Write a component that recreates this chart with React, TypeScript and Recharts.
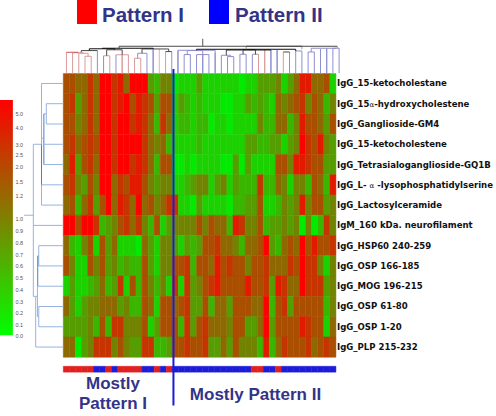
import React from "react";
import { BarChart, Bar, Cell, XAxis, YAxis, ReferenceLine, ReferenceArea } from "recharts";

// antibody reactivities, rows top to bottom
const rowLabels = [
  "IgG_15-ketocholestane",
  "IgG_15α-hydroxycholestene",
  "IgG_Ganglioside-GM4",
  "IgG_15-ketocholestene",
  "IgG_Tetrasialoganglioside-GQ1B",
  "IgG_L- α -lysophosphatidylserine",
  "IgG_Lactosylceramide",
  "IgM_160 kDa. neurofilament",
  "IgG_HSP60 240-259",
  "IgG_OSP 166-185",
  "IgG_MOG 196-215",
  "IgG_OSP 61-80",
  "IgG_OSP 1-20",
  "IgG_PLP 215-232",
];

// heat level per column, 0 = green, 9 = red
const heat0 = [6,6,5,5,7,5,9,9,7,8,5,9,9,9,3,2,4,4,0,1,1,1,3,1,1,1,1,1,1,0,1,1,3,3,3,4,1,3,5,8,8,5,5,6,1];
const heat1 = [6,7,3,5,7,5,9,9,7,8,9,6,8,7,6,3,6,6,1,3,2,1,2,1,1,1,0,0,1,1,3,2,3,2,1,5,4,5,6,7,4,6,5,2,4];
const heat2 = [6,6,4,5,7,5,9,9,7,9,9,7,8,7,5,2,7,5,1,2,2,1,2,2,0,1,1,0,1,1,1,1,4,2,2,5,5,2,4,8,6,6,5,3,6];
const heat3 = [6,7,5,6,7,6,9,9,7,9,9,9,9,7,5,4,5,2,1,1,1,1,2,1,1,1,1,1,1,1,3,3,2,2,3,3,1,3,4,9,7,6,8,4,3];
const heat4 = [5,8,3,6,7,5,9,9,7,9,9,7,8,7,5,2,6,6,0,0,1,0,1,1,1,1,0,0,3,0,3,1,1,1,1,6,6,4,8,8,7,6,6,3,3];
const heat5 = [6,7,4,3,6,4,9,9,5,7,6,8,8,6,4,3,4,4,1,1,2,3,4,4,1,3,4,1,3,2,2,2,7,2,2,5,4,1,4,4,2,6,5,2,8];
const heat6 = [5,6,2,5,7,3,6,9,5,8,7,5,9,5,6,4,5,7,7,1,1,0,3,1,1,1,1,0,2,2,3,3,6,1,1,2,4,3,4,8,4,6,6,3,4];
const heat7 = [9,9,6,9,9,7,2,3,4,6,7,5,7,4,2,6,1,3,4,4,4,4,6,4,6,5,5,2,8,7,4,4,6,2,3,3,4,3,4,0,4,0,2,7,4];
const heat8 = [5,2,1,4,6,1,6,3,5,1,1,1,0,5,3,1,4,4,3,1,3,2,3,6,6,7,5,5,4,2,5,5,6,9,3,2,5,6,5,9,6,8,6,6,7];
const heat9 = [6,4,1,1,6,4,6,3,4,2,3,2,2,6,3,1,4,4,6,6,7,2,6,6,5,8,6,7,6,6,4,6,6,7,5,5,5,7,6,9,7,7,4,1,4];
const heat10 = [1,3,1,1,2,3,5,2,3,7,1,6,2,6,4,2,4,1,7,1,7,3,4,6,7,8,6,6,6,6,8,6,6,7,3,8,7,5,5,9,7,7,7,3,4];
const heat11 = [5,3,1,3,4,4,5,5,5,3,4,2,2,6,5,1,6,6,5,6,7,3,3,6,2,5,5,3,6,6,6,5,5,9,2,6,7,3,6,6,6,6,6,2,4];
const heat12 = [3,3,3,3,4,2,6,2,7,7,4,4,4,6,1,3,6,6,6,2,7,3,6,7,5,5,5,4,6,6,3,3,5,9,3,6,6,6,6,8,7,6,6,1,5];
const heat13 = [5,5,0,3,4,7,7,7,4,6,4,3,3,7,7,2,2,3,6,6,7,6,6,7,3,3,5,3,6,4,4,4,2,8,2,5,7,6,6,6,7,5,6,7,6];
const heatRows = [heat0, heat1, heat2, heat3, heat4, heat5, heat6, heat7, heat8, heat9, heat10, heat11, heat12, heat13];

// sample pattern strip: 1 = Pattern I, 2 = Pattern II
const patternStrip = [1,1,1,1,1,2,2,1,2,1,1,1,1,2,2,1,2,1,2,2,2,2,2,2,2,2,2,2,2,2,2,1,1,2,2,1,2,2,2,2,2,2,2,2,2];

const scaleTicks = [
  ["5.0", 114.3], ["4.0", 127.7], ["3.0", 145], ["2.5", 155.3], ["2.0", 167], ["1.5", 182.3], ["1.2", 196],
  ["1.0", 219.3], ["0.9", 231.3], ["0.8", 243], ["0.7", 254.7], ["0.6", 266.3], ["0.5", 278.3], ["0.4", 290],
  ["0.3", 301.7], ["0.2", 313.3], ["0.1", 325], ["0.0", 336],
] as [string, number][];

const R = "#d99a9a", P = "#f0bcbc", B = "#8e8ed0", K = "#4a4a4a", N = "#111111", G = "#9a9a9a";
// top tree: left col, right col, left base, right base, merge height, left colour, right colour, bar colour
const topTree: [number, number, number, number, number, string, string, string][] = [
  [3,4,0,0,17,R,R,R],[2,3.5,0,17,20,R,R,R],[1,2.75,0,20,20.5,R,R,R],[0,1.9,0,20.5,21,R,R,"#cc5555"],
  [2.4,5,21,0,22.7,K,B,K],[6,7,0,0,17.5,B,R,R],[8,10,0,0,18.5,B,R,R],[9,9,0,0,18.5,R,R,R],
  [11,12,0,0,15,R,R,R],[11.5,13,15,0,20,B,B,B],[14,14,0,0,24,B,B,B],[15,15,0,0,24,P,P,P],
  [16,17,0,0,21.7,R,B,K],[6.5,9,17.5,18.5,23.5,K,K,K],[12.2,16.5,20,21.7,24.3,K,K,K],
  [3.7,7.8,22.7,23.5,24.5,N,N,N],[5.8,14,24.5,24.3,25,N,N,N],[8.5,8.5,25,27,27,K,K,K],
  [18,18,0,0,22.7,B,B,B],[19,20,0,0,18.7,B,B,B],[21,23,0,0,18.7,B,B,B],[22,22,0,0,18.7,B,B,B],
  [24,24,0,0,20.7,B,B,B],[26,27,0,0,16.7,B,B,B],[25,26.5,0,16.7,18,B,B,B],[28,29,0,0,19,B,B,B],
  [30,31,0,0,19,B,R,G],[32,32,0,0,23.3,R,R,R],[33,33,0,0,23.3,B,B,B],[34,34,0,0,23.3,B,B,B],
  [35,36,0,0,21.3,R,B,K],[37,38,0,0,22.3,B,B,B],[39,40,0,0,21.3,B,B,B],[41,41,0,0,24,B,B,B],
  [42,42,0,0,24.7,B,B,B],[43,44,0,0,25,B,B,B],[19.5,22,18.7,18.7,22.7,B,B,B],[18,24,22.7,20.7,23,B,B,B],
  [25.8,33,18,23.3,23.3,K,K,N],[28.5,30.5,19,19,23.6,K,K,N],[21,37,23,22.3,24,N,N,N],
  [39.5,43.5,21.3,25,25,B,B,B],[29,38,24,24,27,G,G,K],[8.5,43.7,27,25,27,K,B,K],
];
const rootStem = [22, 27, 34.5];

const L = "#96b4e0", D = "#4f7fc4";
// left tree: top row, bottom row, top base, bottom base, merge depth, colour
const leftTree: [number, number, number, number, number, string][] = [
  [1,2,0,0,16.6,L],[1.5,4,16.6,0,19,D],[3,3,0,19,19,L],[0,6,0,0,21.3,L],[3,5,21,21.3,21.3,D],[5,5,0,21.3,21.3,L],
  [2.7,2.7,19,21.3,21.3,L],[3,3,21.3,29.3,29.3,L],[7,7,0,29.3,29.3,L],[3,10.5,29.3,29.3,29.3,L],
  [10.5,10.5,27,29.3,29.3,L],[6.5,6.5,29.3,38.3,38.3,L],
  [8,9,0,0,24,L],[8.5,10,24,0,25,D],[11,12,0,0,24,L],[10,11.5,25,24,25.3,L],[10.5,13,25.3,0,27,L],
];

const colIds = patternStrip.map((_, i) => i);
const data = colIds.map((c) => {
  const row: Record<string, number> = { col: c, gap: 0.45, strip: 0.3 };
  heatRows.forEach((_, r) => { row["r" + r] = 1; });
  return row;
});

const COL_PX = 6.06, ROW_PX = 20.25, LEFT = 63.3, TOP = 73.3;
const px2col = (x: number) => (x - LEFT) / COL_PX;
const px2row = (y: number) => (y - TOP) / ROW_PX;
const heatColor = (v: number) => {
  const t = v / 9;
  return `rgb(${Math.round(255 * t)},${Math.round(235 * (1 - t))},0)`;
};
const seg = (k: string, x1: number, y1: number, x2: number, y2: number, stroke: string, w = 1) => (
  <ReferenceLine key={k} xAxisId="num" yAxisId="main" ifOverflow="visible" stroke={stroke} strokeWidth={w}
    segment={[{ x: x1, y: y1 }, { x: x2, y: y2 }]} />
);
const tx = (c: number) => c + 0.5;
const ty = (h: number) => -h / ROW_PX;
const lx = (d: number) => -d / COL_PX;
const ly = (r: number) => r + 0.5;
const labelTicks = rowLabels.map((_, i) => i + 0.5);
const head = { fontFamily: "Liberation Sans", fontWeight: 700, fill: "#333388" } as const;

const RowTick = ({ x, y, payload }: any) => {
  const label = rowLabels[Math.round(payload.value - 0.5)] ?? "";
  const parts = label.split("α");
  return (
    <text x={x} y={y + 3} fontFamily="DejaVu Sans" fontWeight={700} fontSize={8.55} fill="#111" style={{ whiteSpace: "pre" }}>
      {parts[0]}
      {parts.length > 1 ? <tspan fontWeight={400} fontFamily="DejaVu Serif" fontSize={7}>α</tspan> : null}
      {parts[1] ?? ""}
    </text>
  );
};

export default function App() {
  return (
    <div style={{ position: "absolute", left: 0, top: 0 }}>
      <BarChart width={496} height={416} data={data} barCategoryGap={0}
        margin={{ top: TOP, left: LEFT, right: 0, bottom: 416 - 372.4 }}>
        <defs>
          <linearGradient id="scale" x1="0" y1="0" x2="0" y2="1">
            <stop offset="0" stopColor="#ff0000" />
            <stop offset="0.5" stopColor="#808000" />
            <stop offset="1" stopColor="#00ff00" />
          </linearGradient>
        </defs>
        <XAxis xAxisId="cat" dataKey="col" hide />
        <XAxis xAxisId="num" type="number" domain={[0, 46]} hide allowDataOverflow />
        <YAxis yAxisId="main" type="number" domain={[0, 14.75]} reversed orientation="right" width={160} allowDataOverflow
          ticks={labelTicks} interval={0} axisLine={false} tickLine={false} tickSize={0} tickMargin={1}
          tick={RowTick} />
        {heatRows.map((row, r) => (
          <Bar key={r} dataKey={"r" + r} stackId="s" xAxisId="cat" yAxisId="main" isAnimationActive={false}>
            {row.map((v, c) => <Cell key={c} fill={heatColor(v)} stroke={heatColor(v)} strokeWidth={0.5} />)}
          </Bar>
        ))}
        <Bar dataKey="gap" stackId="s" xAxisId="cat" yAxisId="main" isAnimationActive={false} fill="none" />
        <Bar dataKey="strip" stackId="s" xAxisId="cat" yAxisId="main" isAnimationActive={false}>
          {patternStrip.map((p, c) => {
            const f = p === 1 ? "#e02020" : "#1c1cd8";
            return <Cell key={c} fill={f} stroke={f} strokeWidth={0.5} />;
          })}
        </Bar>

        <ReferenceArea xAxisId="num" yAxisId="main" ifOverflow="visible" x1={px2col(0)} x2={px2col(14)}
          y1={px2row(100)} y2={px2row(335)} fill="url(#scale)" fillOpacity={1} stroke="none" />

        {topTree.flatMap(([a, b, ha, hb, h, ca, cb, cbar], i) => [
          seg(`ta${i}`, tx(a), ty(ha), tx(a), ty(h), ca),
          seg(`tb${i}`, tx(b), ty(hb), tx(b), ty(h), cb),
          seg(`tc${i}`, tx(a), ty(h), tx(b), ty(h), cbar),
        ])}
        {seg("root", tx(rootStem[0]), ty(rootStem[1]), tx(rootStem[0]), ty(rootStem[2]), "#555")}
        {leftTree.flatMap(([r1, r2, d1, d2, d, col], i) => [
          seg(`la${i}`, lx(d1), ly(r1), lx(d), ly(r1), L),
          seg(`lb${i}`, lx(d2), ly(r2), lx(d), ly(r2), L),
          seg(`lc${i}`, lx(d), ly(r1), lx(d), ly(r2), col),
        ])}
        {seg("divider", px2col(171), px2row(69), px2col(171), px2row(405), "#1a1ad8", 2)}

        {scaleTicks.map(([t, y]) => (
          <text key={t} x={15.5} y={y + 2} fontFamily="Liberation Sans" fontSize={5.5} fill="#555">{t}</text>
        ))}
        <rect x={77} y={0} width={20} height={24} fill="#ff0000" />
        <rect x={209} y={0} width={20} height={24} fill="#0000ff" />
        <text x={102} y={22} fontSize={20.5} {...head}>Pattern I</text>
        <text x={235} y={22} fontSize={20.5} {...head}>Pattern II</text>
        <text x={113} y={388.5} fontSize={17} textAnchor="middle" {...head}>Mostly</text>
        <text x={113} y={409} fontSize={17} textAnchor="middle" {...head}>Pattern I</text>
        <text x={255.5} y={399.5} fontSize={17} textAnchor="middle" {...head}>Mostly Pattern II</text>
      </BarChart>
    </div>
  );
}
